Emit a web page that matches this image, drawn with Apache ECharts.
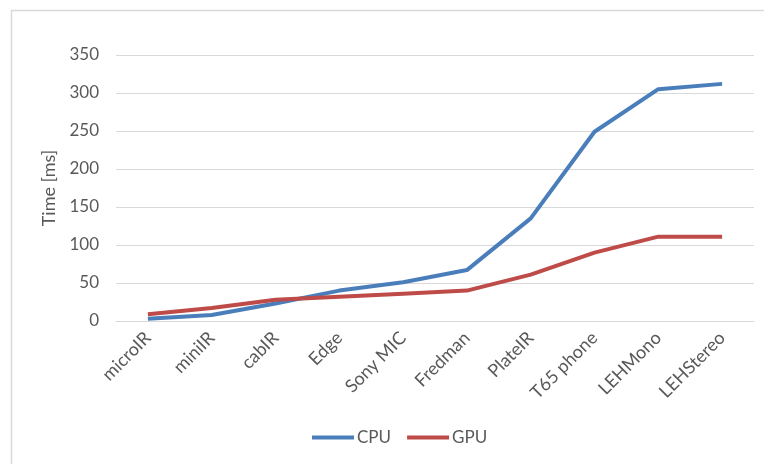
<!DOCTYPE html>
<html>
<head>
<meta charset="utf-8">
<style>
  html, body { margin: 0; padding: 0; background: #ffffff; }
  #chart { width: 764px; height: 464px; }
</style>
<script src="https://cdn.jsdelivr.net/npm/echarts@6/dist/echarts.min.js"></script>
</head>
<body>
<div id="chart"></div>
<script>
// Processing time per impulse response set
const categories = ['microIR', 'miniIR', 'cabIR', 'Edge', 'Sony MIC', 'Fredman', 'PlateIR', 'T65 phone', 'LEHMono', 'LEHStereo'];
const cpuTimes = [3, 8, 23, 40, 51, 67, 135, 249, 305, 312];
const gpuTimes = [9, 17, 28, 32, 36, 40, 61, 90, 111, 111];
const yTicks = { min: 0, max: 350, step: 50 };

const textColor = '#595959';
const font = 'Lato, "Open Sans", sans-serif';

const chart = echarts.init(document.getElementById('chart'), null, { renderer: 'canvas' });
chart.setOption({
  backgroundColor: '#ffffff',
  animation: false,
  graphic: [{
    type: 'rect',
    shape: { x: 11.5, y: 10.5, width: 800, height: 500 },
    style: { fill: 'none', stroke: '#d9d9d9', lineWidth: 1.5 },
    z: -1
  }],
  grid: { left: 116, right: 10, top: 55, bottom: 143, containLabel: false },
  legend: {
    bottom: 13,
    left: 307,
    itemWidth: 42,
    itemHeight: 4,
    itemGap: 16,
    icon: 'rect',
    textStyle: { color: textColor, fontSize: 17, fontFamily: font, padding: [0, 0, 0, -2] },
    data: ['CPU', 'GPU']
  },
  xAxis: {
    type: 'category',
    data: categories,
    boundaryGap: true,
    axisLine: { show: true, lineStyle: { color: '#d9d9d9', width: 1 } },
    axisTick: { show: false },
    axisLabel: {
      color: textColor, fontSize: 18, fontFamily: font,
      rotate: 45, margin: 14, interval: 0
    }
  },
  yAxis: {
    type: 'value',
    min: yTicks.min, max: yTicks.max, interval: yTicks.step,
    name: 'Time [ms]',
    nameLocation: 'middle',
    nameGap: 57,
    nameRotate: 90,
    nameTextStyle: { color: textColor, fontSize: 18, fontFamily: font },
    axisLine: { show: false },
    axisTick: { show: false },
    axisLabel: { color: textColor, fontSize: 17, fontFamily: font, margin: 17 },
    splitLine: { lineStyle: { color: '#d9d9d9', width: 1 } }
  },
  series: [
    {
      name: 'CPU', type: 'line', data: cpuTimes,
      symbol: 'none', smooth: false,
      lineStyle: { color: '#4a7ebb', width: 4 },
      itemStyle: { color: '#4a7ebb' }
    },
    {
      name: 'GPU', type: 'line', data: gpuTimes,
      symbol: 'none', smooth: false,
      lineStyle: { color: '#be4b48', width: 4 },
      itemStyle: { color: '#be4b48' }
    }
  ]
});
</script>
</body>
</html>
